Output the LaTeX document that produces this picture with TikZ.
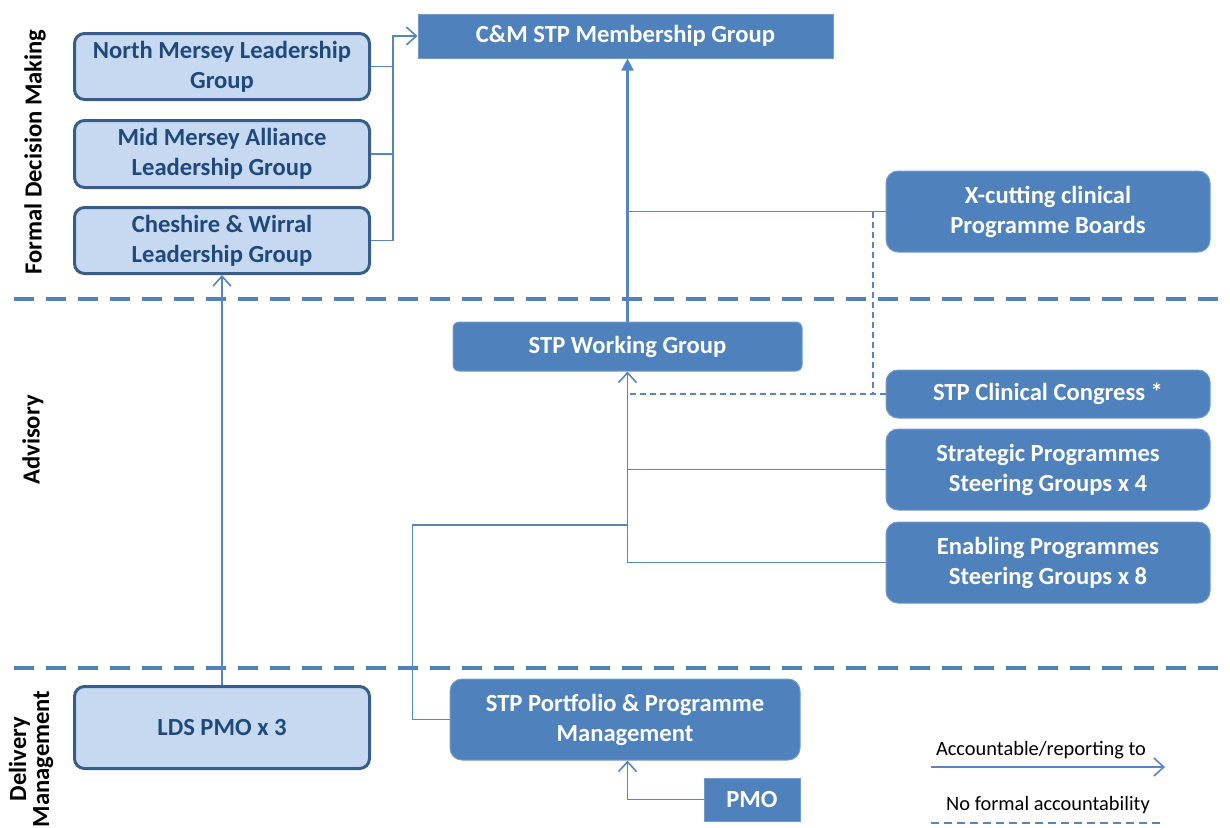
\documentclass[tikz,border=0pt]{standalone}
\usepackage{fontspec}
\setmainfont{Carlito}
\usetikzlibrary{calc}
\usetikzlibrary{arrows.meta}
\usetikzlibrary{positioning}
\definecolor{stpblue}{RGB}{79, 129, 189}
\definecolor{stpline}{RGB}{84, 134, 196}
\definecolor{paleblue}{RGB}{198, 217, 241}
\definecolor{navyedge}{RGB}{56, 93, 138}
\definecolor{navytext}{RGB}{31, 73, 125}

\begin{document}
\begin{tikzpicture}[x=0.5pt, y=-0.5pt,
        boxfont/.style={font=\fontsize{12.3}{15}\selectfont\bfseries},
        leadbox/.style={boxfont, draw=navyedge, line width=1.5pt, fill=paleblue, rounded corners=5pt,
                        text=navytext, align=center, inner sep=0pt, minimum width=147.5pt},
        progbox/.style={boxfont, draw=stpblue!80!white, line width=0.5pt, fill=stpblue, rounded corners=6pt,
                        text=white, align=center, inner sep=0pt, minimum width=162pt},
        sidelbl/.style={boxfont, rotate=90, align=center, inner sep=0pt},
        legtext/.style={font=\fontsize{10.2}{12}\selectfont, inner sep=0pt},
        link/.style={draw=stpline, line width=0.8pt},
        repto/.style={link, -{Straight Barb[length=5pt,width=9pt]}},
        repmain/.style={draw=stpline, line width=1.2pt, -{Triangle[length=6pt,width=6pt]}},
        noacc/.style={draw=stpline, line width=0.8pt, dash pattern=on 3pt off 2pt},
        band/.style={draw=stpblue, line width=2pt, dash pattern=on 10pt off 6pt}]
    \useasboundingbox (0,0) rectangle (1230,827);

    \draw[band] (14,299) -- (1230,299);
    \draw[band] (14,668) -- (1230,668);

    \node[sidelbl] (fdm) at (35,152) {Formal Decision Making};
    \node[sidelbl] (adv) at (33,440) {Advisory};
    \node[sidelbl, font=\fontsize{12.3}{11.5}\selectfont\bfseries] (dlm) at (31,759) {Delivery\\Management};

    \node[leadbox, minimum height=33pt]   (nmlg)   at (222, 66.5) {North Mersey Leadership\\Group};
    \node[leadbox, minimum height=33.5pt] (mmlg)   at (222,154.0) {Mid Mersey Alliance\\Leadership Group};
    \node[leadbox, minimum height=33pt]   (cwlg)   at (222,240.5) {Cheshire \& Wirral\\Leadership Group};
    \node[leadbox, minimum height=41pt]   (ldspmo) at (222,727.5) {LDS PMO x 3};

    \node[progbox, rounded corners=0pt, minimum width=207.5pt, minimum height=22pt] (cmsmg) at (625.5, 36) {C\&M STP Membership Group};
    \node[progbox, rounded corners=3pt, minimum width=174.5pt, minimum height=24.5pt] (stpwg) at (627.5,346.5) {STP Working Group};
    \node[progbox, minimum height=40.5pt] (xcpb) at (1048,211.5) {X-cutting clinical\\Programme Boards};
    \node[progbox, minimum height=24pt]   (stpcc) at (1048,394.0) {STP Clinical Congress *};
    \node[progbox, minimum height=40.5pt] (spsg) at (1048,469.5) {Strategic Programmes\\Steering Groups x 4};
    \node[progbox, minimum height=40.5pt] (epsg) at (1048,562.5) {Enabling Programmes\\Steering Groups x 8};
    \node[progbox, minimum width=175pt, minimum height=40.5pt] (stpppm) at (625,719.5) {STP Portfolio \& Programme\\Management};
    \node[progbox, rounded corners=0pt, minimum width=48pt, minimum height=21.5pt] (pmo) at (752,799.5) {PMO};

    \coordinate (jn)  at (393, 36);
    \coordinate (dv)  at (873,  0);
    \coordinate (tee) at (627.5,525);
    \draw[link]  (nmlg.east) -- (nmlg.east -| jn);
    \draw[link]  (mmlg.east) -- (mmlg.east -| jn);
    \draw[repto] (cwlg.east) -| (jn) -- (cmsmg.west);
    \draw[repto] (ldspmo.north) -- (cwlg.south);

    \draw[repmain] (stpwg.north) -- (cmsmg.south -| stpwg.north);
    \draw[link]    (xcpb.west) -- (xcpb.west -| stpwg.north);
    \draw[noacc]   (xcpb.west -| dv) -- (stpcc.west -| dv);
    \draw[noacc]   (stpcc.west) -- (stpcc.west -| stpwg.south);
    \draw[link]    (spsg.west) -- (spsg.west -| stpwg.south);
    \draw[repto]   (epsg.west) -| (stpwg.south);
    \draw[link]    (stpppm.west) -- ++(-37,0) |- (tee);
    \draw[repto]   (pmo.west) -| (stpppm.south -| stpwg.south);

    \coordinate (acca) at ( 931,767);
    \coordinate (accb) at (1165,767);
    \coordinate (noa)  at ( 931,823);
    \coordinate (nob)  at (1160,823);
    \node[legtext] (lacc) at (1041,750) {Accountable/reporting to};
    \node[legtext] (lnoa) at (1048,805) {No formal accountability};
    \draw[repto] (acca) -- (accb);
    \draw[noacc, dash pattern=on 4pt off 2.5pt] (noa) -- (nob);
\end{tikzpicture}
\end{document}
